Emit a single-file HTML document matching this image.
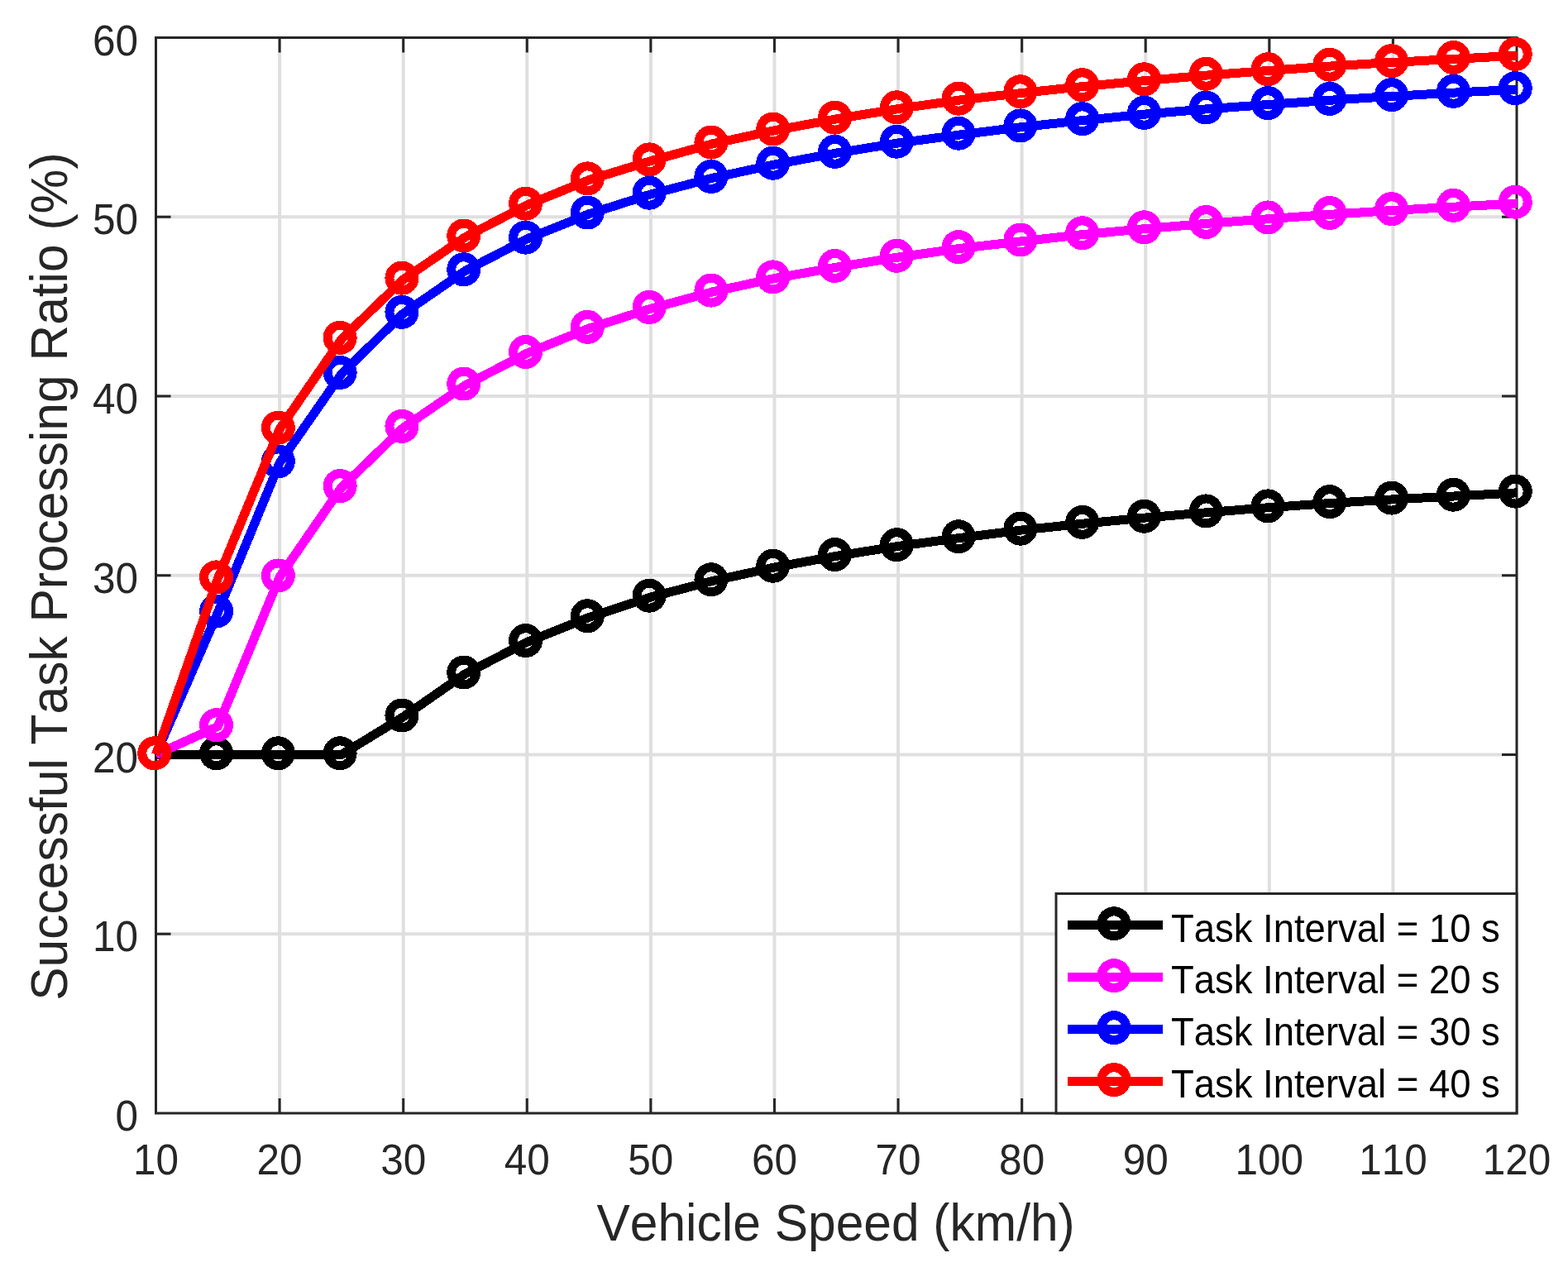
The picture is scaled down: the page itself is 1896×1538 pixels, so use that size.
<!DOCTYPE html>
<html><head><meta charset="utf-8"><title>Successful Task Processing Ratio vs Vehicle Speed</title>
<style>html,body{margin:0;padding:0;background:#fff;width:1896px;height:1538px;overflow:hidden}svg{display:block}text{font-family:"Liberation Sans",Arial,Helvetica,sans-serif;font-kerning:none}</style>
</head><body>
<svg width="1896" height="1538" viewBox="0 0 1896 1538">
<rect x="0" y="0" width="1896" height="1538" fill="#ffffff"/>
<defs><clipPath id="ax"><rect x="182.50" y="44.50" width="1652.30" height="1302.50"/></clipPath></defs>
<path d="M338.09 45.50V1346.00M487.68 45.50V1346.00M637.27 45.50V1346.00M786.86 45.50V1346.00M936.45 45.50V1346.00M1086.05 45.50V1346.00M1235.64 45.50V1346.00M1385.23 45.50V1346.00M1534.82 45.50V1346.00M1684.41 45.50V1346.00M188.50 1129.25H1834.00M188.50 912.50H1834.00M188.50 695.75H1834.00M188.50 479.00H1834.00M188.50 262.25H1834.00" stroke="#dfdfdf" stroke-width="4" fill="none"/>
<path d="M188.50 45.50H1834.00V1346.00H188.50ZM338.09 1346.00v-16.50M338.09 45.50v16.50M487.68 1346.00v-16.50M487.68 45.50v16.50M637.27 1346.00v-16.50M637.27 45.50v16.50M786.86 1346.00v-16.50M786.86 45.50v16.50M936.45 1346.00v-16.50M936.45 45.50v16.50M1086.05 1346.00v-16.50M1086.05 45.50v16.50M1235.64 1346.00v-16.50M1235.64 45.50v16.50M1385.23 1346.00v-16.50M1385.23 45.50v16.50M1534.82 1346.00v-16.50M1534.82 45.50v16.50M1684.41 1346.00v-16.50M1684.41 45.50v16.50M188.50 1129.25h16.50M1834.00 1129.25h-16.50M188.50 912.50h16.50M1834.00 912.50h-16.50M188.50 695.75h16.50M1834.00 695.75h-16.50M188.50 479.00h16.50M1834.00 479.00h-16.50M188.50 262.25h16.50M1834.00 262.25h-16.50" stroke="#262626" stroke-width="3" fill="none" stroke-linecap="square"/>
<polyline clip-path="url(#ax)" points="188.50,912.50 263.30,912.50 338.09,912.50 412.89,912.50 487.68,866.77 562.48,814.75 637.27,776.38 712.07,746.47 786.86,721.98 861.66,702.47 936.45,686.00 1011.25,672.34 1086.05,660.42 1160.84,650.45 1235.64,640.91 1310.43,633.11 1385.23,625.96 1460.02,619.67 1534.82,613.60 1609.61,608.40 1684.41,603.85 1759.20,599.95 1834.00,595.83 1835.20,595.76" fill="none" stroke="#000000" stroke-width="11" stroke-linejoin="round" stroke-linecap="butt" shape-rendering="crispEdges"/>
<g fill="none" stroke="#000000" stroke-width="11" shape-rendering="crispEdges"><circle cx="186.75" cy="910.75" r="15"/><circle cx="261.55" cy="910.75" r="15"/><circle cx="336.34" cy="910.75" r="15"/><circle cx="411.14" cy="910.75" r="15"/><circle cx="485.93" cy="865.02" r="15"/><circle cx="560.73" cy="813.00" r="15"/><circle cx="635.52" cy="774.63" r="15"/><circle cx="710.32" cy="744.72" r="15"/><circle cx="785.11" cy="720.23" r="15"/><circle cx="859.91" cy="700.72" r="15"/><circle cx="934.70" cy="684.25" r="15"/><circle cx="1009.50" cy="670.59" r="15"/><circle cx="1084.30" cy="658.67" r="15"/><circle cx="1159.09" cy="648.70" r="15"/><circle cx="1233.89" cy="639.16" r="15"/><circle cx="1308.68" cy="631.36" r="15"/><circle cx="1383.48" cy="624.21" r="15"/><circle cx="1458.27" cy="617.92" r="15"/><circle cx="1533.07" cy="611.85" r="15"/><circle cx="1607.86" cy="606.65" r="15"/><circle cx="1682.66" cy="602.10" r="15"/><circle cx="1757.45" cy="598.20" r="15"/><circle cx="1832.25" cy="594.08" r="15"/></g>
<polyline clip-path="url(#ax)" points="188.50,912.50 263.30,878.47 338.09,697.70 412.89,589.33 487.68,517.15 562.48,465.78 637.27,427.20 712.07,397.07 786.86,373.23 861.66,352.85 936.45,336.60 1011.25,323.16 1086.05,311.02 1160.84,300.40 1235.64,291.73 1310.43,283.49 1385.23,276.56 1460.02,270.27 1534.82,264.63 1609.61,259.22 1684.41,254.45 1759.20,250.11 1834.00,245.99 1835.20,245.93" fill="none" stroke="#ff00ff" stroke-width="11" stroke-linejoin="round" stroke-linecap="butt" shape-rendering="crispEdges"/>
<g fill="none" stroke="#ff00ff" stroke-width="11" shape-rendering="crispEdges"><circle cx="186.75" cy="910.75" r="15"/><circle cx="261.55" cy="876.72" r="15"/><circle cx="336.34" cy="695.95" r="15"/><circle cx="411.14" cy="587.58" r="15"/><circle cx="485.93" cy="515.40" r="15"/><circle cx="560.73" cy="464.03" r="15"/><circle cx="635.52" cy="425.45" r="15"/><circle cx="710.32" cy="395.32" r="15"/><circle cx="785.11" cy="371.48" r="15"/><circle cx="859.91" cy="351.10" r="15"/><circle cx="934.70" cy="334.85" r="15"/><circle cx="1009.50" cy="321.41" r="15"/><circle cx="1084.30" cy="309.27" r="15"/><circle cx="1159.09" cy="298.65" r="15"/><circle cx="1233.89" cy="289.98" r="15"/><circle cx="1308.68" cy="281.74" r="15"/><circle cx="1383.48" cy="274.81" r="15"/><circle cx="1458.27" cy="268.52" r="15"/><circle cx="1533.07" cy="262.88" r="15"/><circle cx="1607.86" cy="257.47" r="15"/><circle cx="1682.66" cy="252.70" r="15"/><circle cx="1757.45" cy="248.36" r="15"/><circle cx="1832.25" cy="244.24" r="15"/></g>
<polyline clip-path="url(#ax)" points="188.50,912.50 263.30,740.83 338.09,559.63 412.89,452.12 487.68,379.08 562.48,327.49 637.27,288.91 712.07,258.78 786.86,234.94 861.66,215.22 936.45,198.96 1011.25,185.09 1086.05,172.95 1160.84,162.98 1235.64,153.66 1310.43,145.42 1385.23,138.05 1460.02,131.77 1534.82,126.35 1609.61,121.15 1684.41,116.38 1759.20,112.04 1834.00,108.36 1835.20,108.30" fill="none" stroke="#0000ff" stroke-width="11" stroke-linejoin="round" stroke-linecap="butt" shape-rendering="crispEdges"/>
<g fill="none" stroke="#0000ff" stroke-width="11" shape-rendering="crispEdges"><circle cx="186.75" cy="910.75" r="15"/><circle cx="261.55" cy="739.08" r="15"/><circle cx="336.34" cy="557.88" r="15"/><circle cx="411.14" cy="450.37" r="15"/><circle cx="485.93" cy="377.33" r="15"/><circle cx="560.73" cy="325.74" r="15"/><circle cx="635.52" cy="287.16" r="15"/><circle cx="710.32" cy="257.03" r="15"/><circle cx="785.11" cy="233.19" r="15"/><circle cx="859.91" cy="213.47" r="15"/><circle cx="934.70" cy="197.21" r="15"/><circle cx="1009.50" cy="183.34" r="15"/><circle cx="1084.30" cy="171.20" r="15"/><circle cx="1159.09" cy="161.23" r="15"/><circle cx="1233.89" cy="151.91" r="15"/><circle cx="1308.68" cy="143.67" r="15"/><circle cx="1383.48" cy="136.30" r="15"/><circle cx="1458.27" cy="130.02" r="15"/><circle cx="1533.07" cy="124.60" r="15"/><circle cx="1607.86" cy="119.40" r="15"/><circle cx="1682.66" cy="114.63" r="15"/><circle cx="1757.45" cy="110.29" r="15"/><circle cx="1832.25" cy="106.61" r="15"/></g>
<polyline clip-path="url(#ax)" points="188.50,912.50 263.30,699.65 338.09,518.88 412.89,410.07 487.68,337.90 562.48,286.74 637.27,247.94 712.07,217.60 786.86,194.62 861.66,173.82 936.45,157.78 1011.25,143.90 1086.05,131.55 1160.84,120.93 1235.64,112.48 1310.43,104.46 1385.23,97.52 1460.02,91.02 1534.82,85.38 1609.61,79.96 1684.41,75.41 1759.20,71.29 1834.00,67.17 1835.20,67.11" fill="none" stroke="#ff0000" stroke-width="11" stroke-linejoin="round" stroke-linecap="butt" shape-rendering="crispEdges"/>
<g fill="none" stroke="#ff0000" stroke-width="11" shape-rendering="crispEdges"><circle cx="186.75" cy="910.75" r="15"/><circle cx="261.55" cy="697.90" r="15"/><circle cx="336.34" cy="517.13" r="15"/><circle cx="411.14" cy="408.32" r="15"/><circle cx="485.93" cy="336.15" r="15"/><circle cx="560.73" cy="284.99" r="15"/><circle cx="635.52" cy="246.19" r="15"/><circle cx="710.32" cy="215.85" r="15"/><circle cx="785.11" cy="192.87" r="15"/><circle cx="859.91" cy="172.07" r="15"/><circle cx="934.70" cy="156.03" r="15"/><circle cx="1009.50" cy="142.15" r="15"/><circle cx="1084.30" cy="129.80" r="15"/><circle cx="1159.09" cy="119.18" r="15"/><circle cx="1233.89" cy="110.73" r="15"/><circle cx="1308.68" cy="102.71" r="15"/><circle cx="1383.48" cy="95.77" r="15"/><circle cx="1458.27" cy="89.27" r="15"/><circle cx="1533.07" cy="83.63" r="15"/><circle cx="1607.86" cy="78.21" r="15"/><circle cx="1682.66" cy="73.66" r="15"/><circle cx="1757.45" cy="69.54" r="15"/><circle cx="1832.25" cy="65.42" r="15"/></g>
<text transform="translate(188.50 1419.50) scale(1 1.036)" font-size="49.5" fill="#262626" text-anchor="middle">10</text>
<text transform="translate(338.09 1419.50) scale(1 1.036)" font-size="49.5" fill="#262626" text-anchor="middle">20</text>
<text transform="translate(487.68 1419.50) scale(1 1.036)" font-size="49.5" fill="#262626" text-anchor="middle">30</text>
<text transform="translate(637.27 1419.50) scale(1 1.036)" font-size="49.5" fill="#262626" text-anchor="middle">40</text>
<text transform="translate(786.86 1419.50) scale(1 1.036)" font-size="49.5" fill="#262626" text-anchor="middle">50</text>
<text transform="translate(936.45 1419.50) scale(1 1.036)" font-size="49.5" fill="#262626" text-anchor="middle">60</text>
<text transform="translate(1086.05 1419.50) scale(1 1.036)" font-size="49.5" fill="#262626" text-anchor="middle">70</text>
<text transform="translate(1235.64 1419.50) scale(1 1.036)" font-size="49.5" fill="#262626" text-anchor="middle">80</text>
<text transform="translate(1385.23 1419.50) scale(1 1.036)" font-size="49.5" fill="#262626" text-anchor="middle">90</text>
<text transform="translate(1534.82 1419.50) scale(1 1.036)" font-size="49.5" fill="#262626" text-anchor="middle">100</text>
<text transform="translate(1684.41 1419.50) scale(1 1.036)" font-size="49.5" fill="#262626" text-anchor="middle">110</text>
<text transform="translate(1834.00 1419.50) scale(1 1.036)" font-size="49.5" fill="#262626" text-anchor="middle">120</text>
<text transform="translate(167.00 1367.20) scale(1 1.036)" font-size="49.5" fill="#262626" text-anchor="end">0</text>
<text transform="translate(167.00 1150.45) scale(1 1.036)" font-size="49.5" fill="#262626" text-anchor="end">10</text>
<text transform="translate(167.00 933.70) scale(1 1.036)" font-size="49.5" fill="#262626" text-anchor="end">20</text>
<text transform="translate(167.00 716.95) scale(1 1.036)" font-size="49.5" fill="#262626" text-anchor="end">30</text>
<text transform="translate(167.00 500.20) scale(1 1.036)" font-size="49.5" fill="#262626" text-anchor="end">40</text>
<text transform="translate(167.00 283.45) scale(1 1.036)" font-size="49.5" fill="#262626" text-anchor="end">50</text>
<text transform="translate(167.00 66.70) scale(1 1.036)" font-size="49.5" fill="#262626" text-anchor="end">60</text>
<text transform="translate(1010.60 1499.70) scale(1 1.0550)" font-size="60.5" fill="#262626" text-anchor="middle">Vehicle Speed (km/h)</text>
<text transform="translate(81.30 697.10) rotate(-90) scale(1 1.0550)" font-size="60.5" fill="#262626" text-anchor="middle">Successful Task Processing Ratio (%)</text>
<rect x="1277.00" y="1080.50" width="557.00" height="265.50" fill="#ffffff" stroke="#262626" stroke-width="3"/>
<path d="M1290.7 1118.50H1406.2" stroke="#000000" stroke-width="11" shape-rendering="crispEdges"/>
<circle cx="1347.00" cy="1116.75" r="15" fill="none" stroke="#000000" stroke-width="11" shape-rendering="crispEdges"/>
<text transform="translate(1416.00 1138.50) scale(1 1.0400)" font-size="45.45" fill="#000000">Task Interval = 10 s</text>
<path d="M1290.7 1181.40H1406.2" stroke="#ff00ff" stroke-width="11" shape-rendering="crispEdges"/>
<circle cx="1347.00" cy="1179.65" r="15" fill="none" stroke="#ff00ff" stroke-width="11" shape-rendering="crispEdges"/>
<text transform="translate(1416.00 1201.40) scale(1 1.0400)" font-size="45.45" fill="#000000">Task Interval = 20 s</text>
<path d="M1290.7 1244.40H1406.2" stroke="#0000ff" stroke-width="11" shape-rendering="crispEdges"/>
<circle cx="1347.00" cy="1242.65" r="15" fill="none" stroke="#0000ff" stroke-width="11" shape-rendering="crispEdges"/>
<text transform="translate(1416.00 1264.40) scale(1 1.0400)" font-size="45.45" fill="#000000">Task Interval = 30 s</text>
<path d="M1290.7 1307.30H1406.2" stroke="#ff0000" stroke-width="11" shape-rendering="crispEdges"/>
<circle cx="1347.00" cy="1305.55" r="15" fill="none" stroke="#ff0000" stroke-width="11" shape-rendering="crispEdges"/>
<text transform="translate(1416.00 1327.30) scale(1 1.0400)" font-size="45.45" fill="#000000">Task Interval = 40 s</text>
</svg></body></html>
